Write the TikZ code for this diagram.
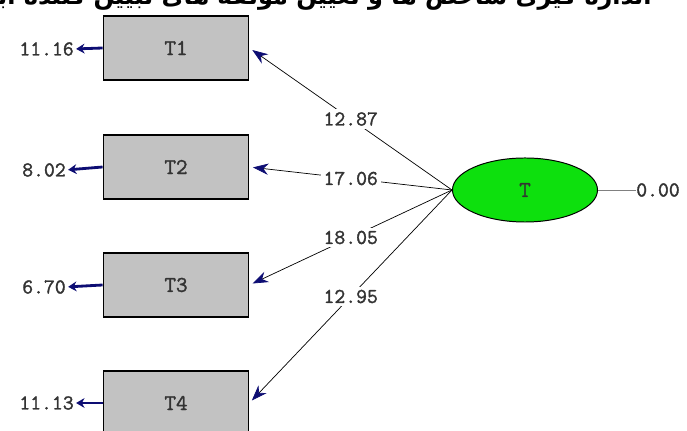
\documentclass[tikz,border=0pt]{standalone}
\usepackage{fontspec}
\newfontfamily\persianfont[Script=Arabic]{DejaVu Sans}
\newfontfamily\lisrelfont[FakeBold=1.5]{Latin Modern Mono}
\TeXXeTstate=1
\usepackage{tikz}
\usetikzlibrary{arrows.meta,shapes.geometric,positioning}
\definecolor{navyblue}{rgb}{0.05,0.05,0.45}
\definecolor{boxgray}{rgb}{0.76,0.76,0.76}
\definecolor{latgreen}{rgb}{0.05,0.88,0.05}
\definecolor{numgray}{rgb}{0.2,0.2,0.2}

\begin{document}
\begin{tikzpicture}[x=0.025cm,y=-0.025cm,
    obs/.style={draw=black,line width=1.3pt,fill=boxgray,minimum width=3.625cm,minimum height=1.6cm,font=\lisrelfont\fontsize{16}{16}\selectfont,text=numgray},
    lat/.style={ellipse,draw=black,line width=0.7pt,fill=latgreen,minimum width=3.625cm,minimum height=1.6cm,inner sep=0pt,font=\lisrelfont\fontsize{16}{16}\selectfont,text=numgray},
    num/.style={font=\lisrelfont\fontsize{15}{15}\selectfont,text=numgray,inner sep=0pt},
    load/.style={line width=0.5pt,-{Stealth[color=navyblue,length=11pt,width=8pt]},shorten >=2.5pt},
    err/.style={navyblue,line width=2pt,-{Stealth[length=6pt,width=7pt]},shorten >=1.5pt}]
        \useasboundingbox (0,0) rectangle (687,431);
        \clip (0,0) rectangle (687,431);
        % Title, cut at the top edge
        \node[anchor=base east,inner sep=0pt,font=\persianfont\bfseries\fontsize{17}{17}\selectfont] (title) at (652,5)
            {\beginR اندازه گیری شاخص ها و تعیین مولفه های تبیین کننده ابعاد شغلی- حرفه ای معلمان\endR};
        % Draw the boxes
        \node[obs] (t1) at (176,48) {T1};
        \node[obs] (t2) at (176,167) {T2};
        \node[obs] (t3) at (176,285) {T3};
        \node[obs] (t4) at (176,403) {T4};
        % Latent variable
        \node[lat] (T) at (525,190) {T};
        %error values
        \node[num,anchor=east] (e1) at (74,49) {11.16};
        \node[num,anchor=east] (e2) at (66,170) {8.02};
        \node[num,anchor=east] (e3) at (66,287) {6.70};
        \node[num,anchor=east] (e4) at (74,403) {11.13};
        \draw[err] (t1.west) -- (e1.east);
        \draw[err] (t2.west) -- (e2.east);
        \draw[err] (t3.west) -- (e3.east);
        \draw[err] (t4.west) -- (e4.east);
        % Add the loadings
        \draw[load] (T.west) -- node[num,fill=white,inner sep=2pt] {12.87} (t1.east);
        \draw[load] (T.west) -- node[num,fill=white,inner sep=2pt] {17.06} (t2.east);
        \draw[load] (T.west) -- node[num,fill=white,inner sep=2pt] {18.05} (t3.east);
        \draw[load] (T.west) -- node[num,fill=white,inner sep=2pt] {12.95} (t4.east);
        % variance of T
        \node[num,anchor=west] (z) at (636,190) {0.00};
        \draw[gray,line width=0.4pt] (T.east) -- (z.west);
      \end{tikzpicture}
\end{document}
